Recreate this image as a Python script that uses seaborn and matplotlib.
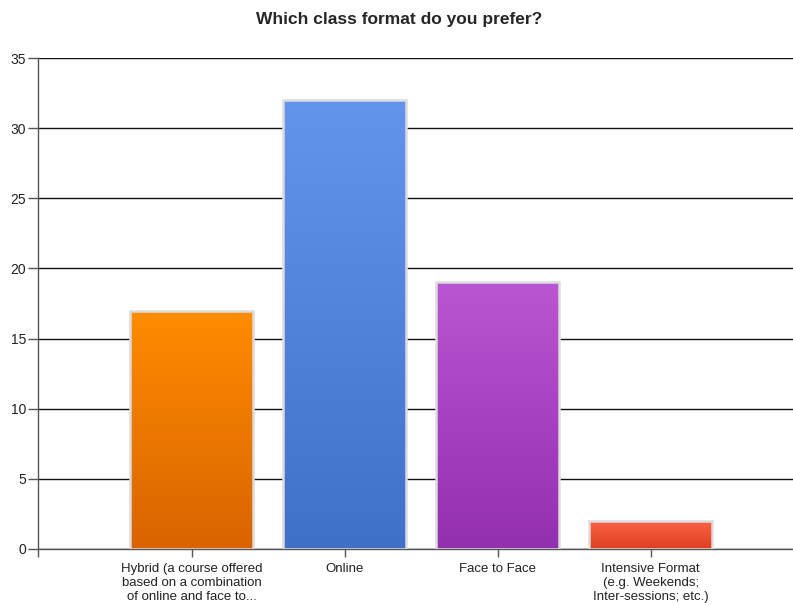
import numpy as np
import matplotlib
matplotlib.use("Agg")
import matplotlib.pyplot as plt
import matplotlib.colors as mcolors
import seaborn as sns
import pandas as pd

categories = ["Hybrid (a course offered\nbased on a combination\nof online and face to...",
              "Online", "Face to Face",
              "Intensive Format\n(e.g. Weekends;\nInter-sessions; etc.)"]
values = [17, 32, 19, 2]
top_colors = ["#FF8C00", "#6495ED", "#BA55D3", "#FF6347"]
bottom_colors = ["#DA6300", "#4070C8", "#9330B0", "#DC4020"]
yticks = [0, 5, 10, 15, 20, 25, 30, 35]

sns.set_theme(style="white")
plt.rcParams["font.family"] = ["Liberation Sans", "DejaVu Sans"]

fig = plt.figure(figsize=(7.93, 6.05), dpi=100)
ax = fig.add_axes([0.0485, 0.0926, 0.9515, 0.8115])

df = pd.DataFrame({"cat": categories, "val": values})
sns.barplot(data=df, x="cat", y="val", hue="cat", palette=top_colors, legend=False,
            width=0.8, edgecolor="#dcdcdc", linewidth=1.8, ax=ax, zorder=3)

for patch, tc, bc in zip(ax.patches, top_colors, bottom_colors):
    x0, y0 = patch.get_x(), patch.get_y()
    w, h = patch.get_width(), patch.get_height()
    t = np.array(mcolors.to_rgb(tc))
    b = np.array(mcolors.to_rgb(bc))
    frac = np.linspace(0, 1, 256)[:, None]
    grad = (t * (1 - frac) + b * frac)[:, None, :]
    im = ax.imshow(grad, extent=[x0, x0 + w, y0, y0 + h], origin="upper",
                   aspect="auto", zorder=2.5, interpolation="bilinear")
    im.set_clip_path(patch)
    patch.set_facecolor("none")

ax.set_xlim(-1.0, 3.93)
ax.set_ylim(0, 35)
ax.set_yticks(yticks)
ax.set_xticks([-1, 0, 1, 2, 3])
ax.set_xticklabels([""] + categories, fontsize=9.5, color="#222222", linespacing=1.25)
ax.tick_params(axis="y", labelsize=10, labelcolor="#222222", length=7, width=1,
               color="#555555", direction="out", left=True, pad=2)
ax.tick_params(axis="x", length=6, width=1, color="#555555", direction="out",
               bottom=True, pad=4)
ax.yaxis.grid(True, color="#111111", linewidth=1)
ax.set_axisbelow(True)
for s in ["top", "right"]:
    ax.spines[s].set_visible(False)
for s in ["left", "bottom"]:
    ax.spines[s].set_color("#555555")
    ax.spines[s].set_linewidth(1)
ax.set_xlabel("")
ax.set_ylabel("")
fig.suptitle("Which class format do you prefer?", fontsize=12.5, fontweight="bold",
             y=0.98, x=0.503)

fig.savefig("out.png", dpi=100)
